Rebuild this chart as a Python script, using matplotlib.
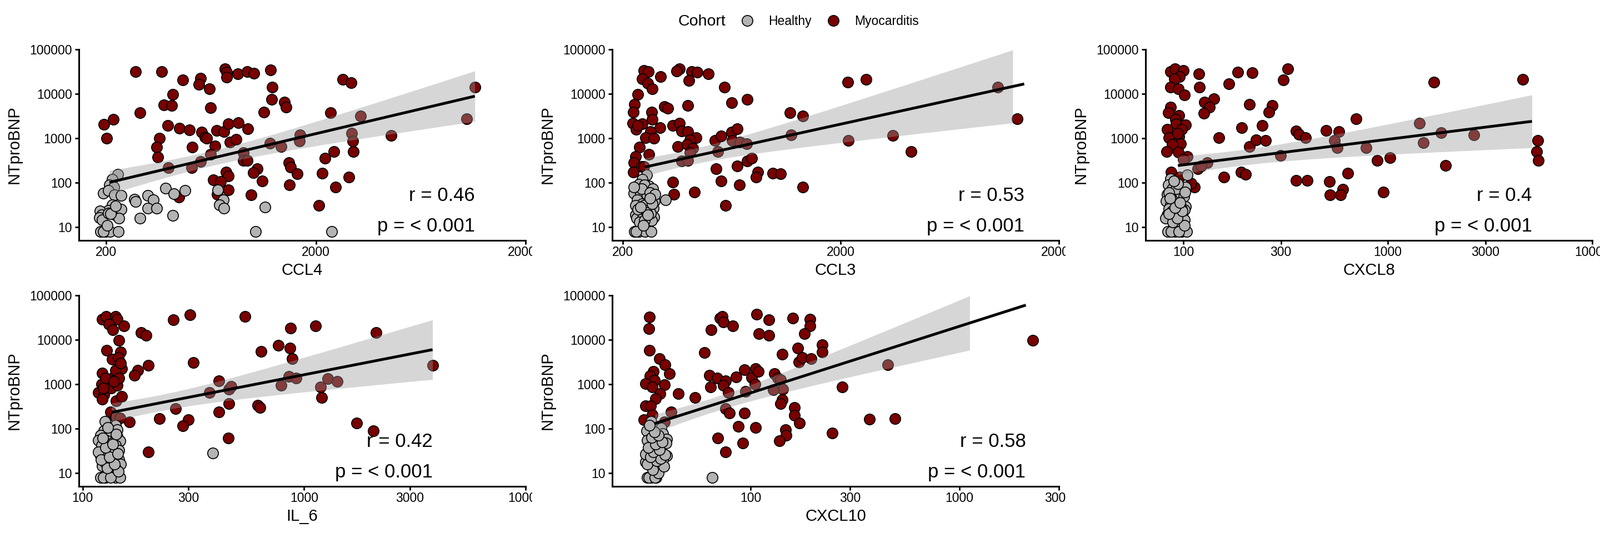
"""
plot.py - NTproBNP vs cytokines, Healthy / Myocarditis cohort.
Scatter on log-log axes with a linear fit (log space) and its 95% band.
"""

import numpy as np
import matplotlib
matplotlib.use("Agg")
import matplotlib.pyplot as plt
from matplotlib.lines import Line2D
from matplotlib.transforms import Bbox, TransformedBbox

plt.rcParams["font.family"] = ["Liberation Sans", "DejaVu Sans"]

# Colours
HEALTHY_COLOR = "#B3B3B3"
MYO_COLOR     = "#780000"
BAND_COLOR    = "#999999"

# ---------------------------------------------------------------- data
# The healthy clusters are heavily overplotted; the last values of each
# healthy list are points hidden inside the dense cluster.

# CCL4
CCL4_MYO_X = [275, 367, 735, 752, 752, 847, 938, 1014, 1216, 463, 562, 554, 620, 1240,
              2690, 2945, 11460, 414, 376, 411, 289, 628, 1230, 1413, 1445, 1132, 2345,
              3265, 10500, 195, 216, 201, 392, 446, 499, 570, 590, 601, 672, 729, 763,
              853, 948, 359, 347, 353, 514, 660, 780, 832, 1675, 1670, 2955, 2990, 3015,
              4570, 1209, 1365, 900, 628, 562, 396, 510, 900, 940, 1052, 1005, 1483,
              1510, 1626, 2210, 2443, 2140, 746, 763, 647, 703, 1112, 1493, 2485, 2880,
              763, 678, 444, 984, 2060]
CCL4_MYO_Y = [31500, 31500, 36700, 30900, 23600, 28100, 31500, 28600, 34000, 20500, 22100,
              16100, 12800, 14100, 21000, 17700, 14300, 9750, 5700, 5480, 3730, 4890, 7530,
              6520, 5070, 3920, 3730, 3140, 2740, 2055, 2640, 1000, 1940, 1695, 1540, 1390,
              1070, 990, 1480, 1425, 2095, 2260, 1650, 990, 630, 372, 624, 674, 817, 953,
              1200, 865, 1300, 865, 495, 1150, 763, 642, 468, 429, 300, 219, 219, 312, 312,
              208, 169, 284, 225, 156, 354, 495, 164, 175, 142, 114, 106, 110, 89.6, 79.8,
              135, 69, 54.3, 47, 53.2, 30.5]
CCL4_HEALTHY_X = [227, 213, 207, 218, 194, 204, 219, 236, 383, 420, 475, 272, 275, 315, 336,
                  315, 348, 213, 205, 187, 190.5, 186, 191, 223, 230, 236, 230, 204, 290,
                  414, 679, 724, 695, 729, 1142, 188, 198, 208, 228, 1033, 2381,
                  193, 202, 210, 221]
CCL4_HEALTHY_Y = [153, 117, 88, 79.8, 58.6, 65.8, 53.2, 51.8, 74.6, 55.4, 67.1, 42.7, 37.7,
                  51.8, 40.7, 26.4, 26.4, 32, 24, 22.9, 18.9, 16.3, 14.4, 18.5, 24, 25.2,
                  15.6, 20.7, 15.9, 18.3, 69, 40.7, 32, 26.4, 28.2, 8, 8, 8, 8, 8, 8,
                  8, 11, 20, 30]

# CCL3
CCL3_MYO_X = [250, 262, 245, 261, 273, 299, 235, 227, 224, 223, 231, 245, 235, 271, 273,
              296, 268, 254, 278, 238, 264, 229, 225, 224, 244, 364, 354, 413, 440, 495,
              403, 585, 631, 746, 398, 310, 322, 339, 364, 373, 398, 433, 406, 357, 394,
              420, 408, 373, 398, 531, 566, 631, 670, 635, 689, 741, 546, 746, 782, 537,
              670, 832, 817, 977, 1060, 1167, 1339, 1180, 2148, 2617, 2163, 3463, 4204,
              10520, 12910, 339, 343, 426, 566, 687, 1339, 593, 259, 250]
CCL3_MYO_Y = [33100, 31500, 21500, 17400, 12800, 24300, 9750, 5750, 3920, 2200, 1570, 2140,
              1940, 3840, 2670, 1730, 1425, 1020, 990, 630, 429, 390, 279, 172, 230, 36700,
              32400, 31500, 30300, 28100, 20000, 14300, 6330, 7530, 5480, 5130, 4750, 1940,
              2200, 1455, 1425, 1020, 925, 649, 728, 601, 472, 306, 312, 883, 1122, 1358,
              1650, 883, 825, 741, 495, 306, 354, 205, 237, 172, 135, 164, 156, 3730, 3140,
              1200, 18200, 21000, 883, 1150, 505, 14300, 2720, 104, 54.3, 61, 110, 88, 78.2,
              30.5, 49.3, 230]
CCL3_HEALTHY_X = [257, 245, 237, 264, 252, 275, 225, 241, 259, 233, 271, 245, 262, 280, 315,
                  250, 239, 276, 229, 232, 247, 264, 278, 271, 226, 237, 253, 270, 254, 268,
                  244, 266, 229, 257, 238, 225, 281, 251, 235, 273,
                  231, 248, 260, 242, 266]
CCL3_HEALTHY_Y = [149, 119, 92, 83.7, 88, 72.4, 57, 54.3, 51.8, 40.7, 42.7, 33.6, 37, 38.8,
                  40.7, 30.5, 24.7, 26.4, 18.9, 15.6, 16.3, 17.1, 16.8, 14.1, 8, 8, 8, 8, 24,
                  20.7, 72.4, 59.8, 30.5, 21.2, 12.8, 79.8, 54.3, 14.1, 25.2, 33.6,
                  8, 11, 19, 28, 45]

# CXCL8
CXCL8_MYO_X = [86.4, 90.8, 100, 95.9, 90.2, 86.4, 94.4, 101.5, 119.3, 119.7, 166.5, 184, 217,
               308, 325, 1683, 4561, 86.4, 84.2, 95.1, 91.6, 92.3, 102.7, 98.1, 83.5, 84.8,
               95.1, 97, 88.1, 82.8, 94.4, 104.7, 141.2, 126.8, 134.3, 125.8, 211, 272.7,
               262.6, 193, 243, 149, 210, 227, 253, 356, 368, 397, 498, 578, 700, 885, 1023,
               1911, 5416, 5360, 5460, 117.4, 87.1, 95.9, 157.8, 191, 202, 356, 403, 519,
               639, 113.5, 108.8, 948, 601, 589, 523, 101.9, 548, 567, 783, 298, 1432, 1489,
               1818, 2636, 130.7, 122.1, 100, 93.7]
CXCL8_MYO_Y = [31500, 36700, 33400, 24300, 21500, 14300, 12800, 9570, 28100, 14300, 16600,
               30300, 29500, 20500, 36700, 18200, 21000, 4980, 3730, 3230, 2670, 2140, 2000,
               1570, 1600, 1020, 1090, 741, 728, 505, 486, 390, 7680, 6520, 4980, 3660, 5750,
               5480, 3920, 1730, 1940, 1020, 649, 908, 883, 1455, 1236, 1020, 1495, 1425,
               2720, 312, 364, 241, 883, 495, 312, 205, 172, 135, 135, 172, 153, 112, 112,
               106, 164, 78.2, 96.6, 61, 71.1, 53.2, 53.2, 67.1, 900, 613, 613, 409, 2200,
               801, 1320, 1177, 279, 234, 337, 1300]
CXCL8_HEALTHY_X = [86.4, 84.2, 88.1, 102.7, 104.7, 83.5, 90.8, 88.7, 97, 82.3, 86.4, 91.6,
                   98.9, 102.7, 101.2, 84.8, 83.5, 84.8, 95.1, 98.9, 101.5, 98.1, 83.8, 90.8,
                   98.1, 103.5, 93.3, 88.1, 81.6, 92.3, 100.8, 84.8,
                   87, 95, 101, 89, 93, 85, 99, 91, 96, 86, 102, 94, 90]
CXCL8_HEALTHY_Y = [123, 88, 72.4, 79.8, 149, 54.3, 53.2, 41.5, 57, 38.8, 32, 33.6, 30.5, 29.1,
                   24.7, 25.6, 18.9, 16.3, 17.1, 17.9, 14.4, 25.2, 8, 8, 8, 8, 11.7, 22.9,
                   15.6, 72.4, 49.3, 60,
                   8, 8, 11, 13, 16, 20, 23, 27, 35, 45, 62, 95, 110]

# IL_6
IL6_MYO_X = [122.4, 127.6, 141, 143.6, 131.3, 137, 154, 146.2, 184, 194, 128.2, 148.7, 136.1,
             145, 256.5, 305.5, 542, 867, 1125, 2112, 764, 865, 640, 883, 316, 198, 177.4,
             171.9, 122.4, 136.1, 143.6, 150.3, 141, 121.6, 131.3, 128.2, 118, 124.5, 122.4,
             134.4, 143.6, 146.2, 141.9, 150.3, 412, 3802, 373, 457, 467, 786, 853, 922, 1186,
             1277, 1410, 1203, 618, 631, 458, 412, 263, 300, 283, 222, 162.5, 133.7, 454,
             198, 1730, 2059, 141, 147.3, 126.8, 138.6, 123.7, 148.7]
IL6_MYO_Y = [29200, 33700, 33700, 29200, 22500, 16900, 20800, 9660, 14600, 12650, 5750, 5230,
             3620, 3990, 28100, 36400, 33700, 18100, 20800, 14400, 7450, 6460, 5430, 3800,
             3080, 2670, 2040, 1600, 1760, 1390, 1600, 2245, 2040, 1000, 1040, 944, 643, 584,
             459, 817, 944, 1390, 417, 530, 1200, 2670, 655, 778, 900, 944, 1483, 1390, 873,
             1320, 1143, 506, 334, 298, 368, 234, 279, 156, 114, 167, 142, 234, 61, 30.2,
             134, 89.5, 184, 175, 1390, 1143, 817, 2990]
IL6_HEALTHY_X = [125.9, 141, 124.5, 133.7, 143.6, 120.7, 129.5, 143.6, 118, 136.1, 147.3,
                 121.6, 141, 126.8, 146.2, 135.2, 120.7, 143.6, 124.5, 146.2, 136.1, 122.4,
                 148.7, 126.8, 120.7, 127.2, 141, 147.3, 388, 131.3, 140, 118,
                 124, 134, 145, 129, 139, 121, 132, 144, 127, 137, 123, 142, 130]
IL6_HEALTHY_Y = [147, 119, 89.5, 83, 94, 70.5, 52.8, 67.1, 55.3, 47.8, 52.8, 41.5, 41.5, 34.2,
                 32.7, 24.4, 24.4, 26.9, 19.2, 20.2, 17.5, 14.4, 15.9, 16.6, 8, 8, 8, 8, 28.2,
                 35.9, 13.7, 29.6,
                 8, 8, 11, 13, 16, 20, 23, 27, 38, 45, 62, 75, 105]

# CXCL10
CXCL10_MYO_X = [32.8, 32.6, 32.7, 36.5, 38.9, 34.1, 33, 34.6, 31.4, 38.6, 33.8, 36.7, 40.9,
                35.1, 31.4, 33.2, 33.8, 30.8, 41.6, 38.6, 44.9, 54.2, 60, 64.6, 71.3, 73.2, 74,
                81.9, 107, 122.5, 159.5, 192.3, 192.3, 109.4, 122.5, 180.6, 168, 141.3, 220.2,
                220.2, 170.6, 177, 194.5, 63.6, 69.2, 76, 64.1, 73.8, 85.1, 93.5, 100.8, 105.8,
                108.6, 104.6, 94.5, 78, 130, 135.2, 138.7, 142.9, 128.6, 141.3, 138.7, 161.9,
                161.9, 171.8, 93.5, 76, 78.9, 87.3, 105.4, 146.8, 147.9, 137.2, 91.7, 69.6,
                76, 245.8, 275.4, 370.7, 493, 454, 2245]
CXCL10_MYO_Y = [32400, 17700, 5750, 3800, 2720, 1940, 1527, 1236, 1020, 962, 857, 613, 1714,
                472, 321, 327, 203, 159, 234, 141, 613, 506, 5170, 16900, 30600, 33100, 24800,
                20800, 37150, 28100, 30600, 29200, 20800, 13900, 12650, 13900, 6460, 4750,
                7680, 5330, 3140, 3990, 3800, 1600, 1390, 1200, 873, 944, 1455, 2140, 1414,
                2245, 1940, 1000, 693, 655, 1714, 1390, 1260, 778, 741, 446, 360, 298, 199,
                134, 223, 284, 223, 112, 105, 94, 70.5, 52.8, 47.8, 61, 30.2, 79, 873, 164,
                167, 2720, 9770]
CXCL10_HEALTHY_X = [33.3, 31.8, 37.2, 37.9, 39.6, 35.1, 32, 35.8, 31.8, 34.1, 37.2, 39.6, 33.2,
                    37.6, 31.4, 35.8, 32.6, 37.9, 32, 33.4, 35.3, 65.3, 39.3, 34.5, 31.4, 36.8,
                    32.5, 34.8, 36.2, 33.9, 38.4, 31.9, 35.5, 37.0, 33.1, 38.9, 34.2, 36.5,
                    32.3, 35.0, 37.7, 33.6, 36.0, 34.6, 32.8]
CXCL10_HEALTHY_Y = [145, 89.5, 103, 77.5, 58.1, 73.8, 55.3, 41.5, 28.2, 24.4, 32.7, 24.4, 14.4,
                    16.6, 17.5, 29.6, 22.2, 20.2, 8, 8, 8, 8, 47.8, 35.9, 26.9, 55.3,
                    8, 8, 10, 12, 14, 16, 19, 21, 23, 26, 30, 33, 38, 44, 50, 63, 70, 85, 120]

# Observed x range of each marker (the smoother spans it) and axis settings
MARKERS    = ["CCL4", "CCL3", "CXCL8", "IL_6", "CXCL10"]
FIT_RANGES = [(207, 11460), (252, 13870), (94, 5072), (135, 3802), (34.8, 2083)]
X_LIMITS   = [(148, 20000), (179, 20000), (65.3, 10000), (96.2, 10000), (21.7, 3000)]
X_TICKS    = [[200, 2000, 20000], [200, 2000, 20000], [100, 300, 1000, 3000, 10000],
              [100, 300, 1000, 3000, 10000], [100, 300, 1000, 3000]]
R_LABELS   = ["r = 0.46", "r = 0.53", "r = 0.4", "r = 0.42", "r = 0.58"]
P_LABELS   = ["p = < 0.001"] * 5
Y_TICKS    = [10, 100, 1000, 10000, 100000]
Y_LIMITS   = (5, 100000)

DATA = {
    "CCL4":   (CCL4_MYO_X, CCL4_MYO_Y, CCL4_HEALTHY_X, CCL4_HEALTHY_Y),
    "CCL3":   (CCL3_MYO_X, CCL3_MYO_Y, CCL3_HEALTHY_X, CCL3_HEALTHY_Y),
    "CXCL8":  (CXCL8_MYO_X, CXCL8_MYO_Y, CXCL8_HEALTHY_X, CXCL8_HEALTHY_Y),
    "IL_6":   (IL6_MYO_X, IL6_MYO_Y, IL6_HEALTHY_X, IL6_HEALTHY_Y),
    "CXCL10": (CXCL10_MYO_X, CXCL10_MYO_Y, CXCL10_HEALTHY_X, CXCL10_HEALTHY_Y),
}

# Figure geometry (pixels at dpi=100)
W, H = 2880, 960
COL_LEFT   = [142, 1102, 2062]
ROW_TOP    = [89, 532]
AX_W, AX_H = 804, 344
POINT_SIZE = 195


def fit_band(x, y, lo, hi, n_grid=100):
    """Linear fit in log-log space with a 95% confidence band."""
    lx = np.log10(np.asarray(x, float))
    ly = np.log10(np.asarray(y, float))
    slope, intercept = np.polyfit(lx, ly, 1)
    n     = len(lx)
    resid = ly - (intercept + slope * lx)
    s     = np.sqrt(np.sum(resid ** 2) / (n - 2))
    sxx   = np.sum((lx - lx.mean()) ** 2)
    grid  = np.linspace(np.log10(lo), np.log10(hi), n_grid)
    fit   = intercept + slope * grid
    se    = s * np.sqrt(1.0 / n + (grid - lx.mean()) ** 2 / sxx)
    t     = 1.977
    return 10 ** grid, 10 ** fit, 10 ** (fit - t * se), 10 ** (fit + t * se)


def draw_panel(fig, ax, idx, clip_right=None):
    name = MARKERS[idx]
    mx, my, hx, hy = DATA[name]

    ax.scatter(mx, my, s=POINT_SIZE, c=MYO_COLOR, edgecolors="black", linewidths=1.2, zorder=2)
    ax.scatter(hx, hy, s=POINT_SIZE, c=HEALTHY_COLOR, edgecolors="black", linewidths=1.2,
               zorder=3)

    lo, hi = FIT_RANGES[idx]
    gx, gy, glo, ghi = fit_band(mx + hx, my + hy, lo, hi)
    inside = (ghi <= Y_LIMITS[1]) & (glo >= Y_LIMITS[0])
    ax.fill_between(gx, glo, ghi, where=inside, color=BAND_COLOR, alpha=0.4,
                    linewidth=0, zorder=4)
    ax.plot(gx, gy, color="black", linewidth=3.6, zorder=5, solid_capstyle="butt")

    ax.text(hi, 38.5, R_LABELS[idx], ha="right", va="baseline", fontsize=25, zorder=6)
    ax.text(hi, 7.9, P_LABELS[idx], ha="right", va="baseline", fontsize=25, zorder=6)

    ax.set_xscale("log")
    ax.set_yscale("log")
    ax.set_xlim(*X_LIMITS[idx])
    ax.set_ylim(*Y_LIMITS)
    ax.set_xticks(X_TICKS[idx])
    ax.set_xticklabels([str(v) for v in X_TICKS[idx]])
    ax.set_yticks(Y_TICKS)
    ax.set_yticklabels([str(v) for v in Y_TICKS])
    ax.minorticks_off()

    for side in ["top", "right"]:
        ax.spines[side].set_visible(False)
    for side in ["left", "bottom"]:
        ax.spines[side].set_linewidth(2.2)
    ax.tick_params(axis="both", direction="out", length=5, width=2.0,
                   labelsize=16.5, colors="black")
    ax.tick_params(axis="x", pad=2.5)
    ax.tick_params(axis="y", pad=4)

    ax.set_xlabel(name, fontsize=21, va="center")
    ax.xaxis.set_label_coords(0.5, -54 / AX_H)
    ax.set_ylabel("NTproBNP", fontsize=21, va="center")
    ax.yaxis.set_label_coords(-116 / AX_W, 0.5)

    if clip_right is not None:
        box = TransformedBbox(Bbox.from_extents(0, 0, clip_right / W, 1), fig.transFigure)
        for lbl in ax.get_xticklabels():
            lbl.set_clip_box(box)
            lbl.set_clip_on(True)


def main():
    fig = plt.figure(figsize=(W / 100, H / 100), dpi=100, facecolor="white")
    slots = [(0, 0), (0, 1), (0, 2), (1, 0), (1, 1)]
    for idx, (r, c) in enumerate(slots):
        left   = COL_LEFT[c] / W
        bottom = 1 - (ROW_TOP[r] + AX_H) / H
        ax = fig.add_axes([left, bottom, AX_W / W, AX_H / H])
        clip = COL_LEFT[c] + AX_W + 12 if c < 2 else None
        draw_panel(fig, ax, idx, clip_right=clip)

    # Legend on top
    fig.text(1220 / W, 1 - 39 / H, "Cohort", ha="left", va="center", fontsize=20.5)
    handles = [Line2D([], [], marker="o", linestyle="", markersize=13.9,
                      markerfacecolor=col, markeredgecolor="black", markeredgewidth=1.2)
               for col in (HEALTHY_COLOR, MYO_COLOR)]
    fig.legend(handles, ["Healthy", "Myocarditis"], loc="center left",
               bbox_to_anchor=(1334 / W, 1 - 39 / H), ncol=2, frameon=False,
               fontsize=16.5, handlelength=1.0, handletextpad=1.15, columnspacing=1.2,
               borderpad=0, borderaxespad=0)

    fig.savefig("out.png", dpi=100, facecolor="white")
    plt.close(fig)


if __name__ == "__main__":
    main()
